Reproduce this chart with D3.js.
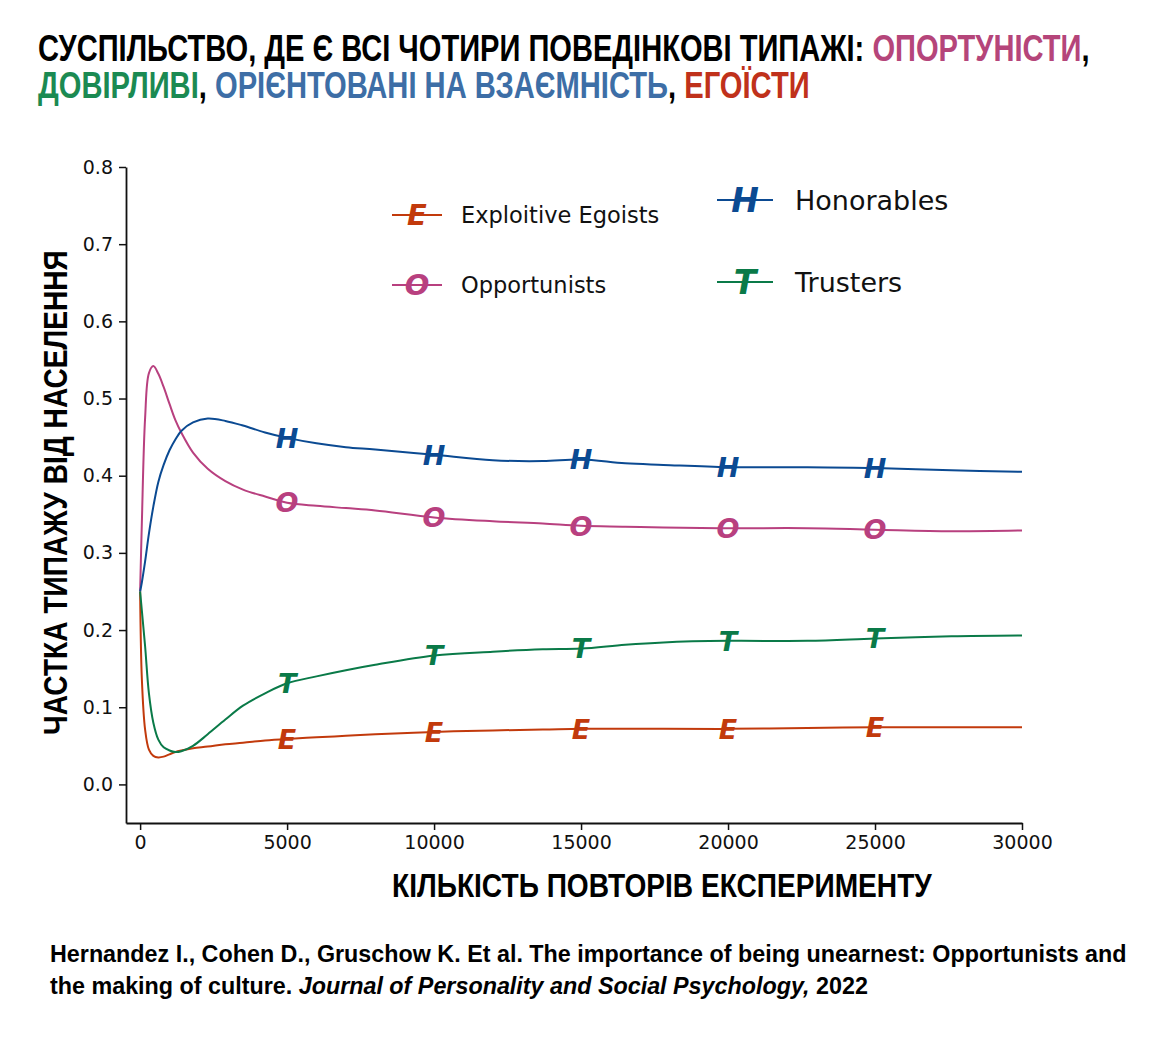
<!DOCTYPE html>
<html>
<head>
<meta charset="utf-8">
<script src="https://cdn.jsdelivr.net/npm/d3@7"></script>
<style>
  body { margin: 0; background: #fff; }
  .tick text { font-family: "DejaVu Sans", sans-serif; font-size: 19px; fill: #111; }
  .narrow { font-family: "Liberation Sans Narrow", "Liberation Sans", Arial, sans-serif; font-weight: bold; }
  .marker { font-family: "DejaVu Sans", sans-serif; font-weight: bold; font-style: italic; }
</style>
</head>
<body>
<div class="canva"></div>
<script>
const canvas = d3.select(".canva");

var iterations = [0, 60, 170, 300, 450, 620, 800, 1000, 1200, 1400, 1800, 2300, 2900, 3500, 4250,
                  5000, 6000, 7000, 8000, 10000, 12000, 13700, 15000, 16500, 17800, 20000, 22700,
                  25000, 27600, 30000];

var honorables = [0.25, 0.262, 0.289, 0.325, 0.360, 0.392, 0.414, 0.433, 0.447, 0.458, 0.469, 0.474,
                  0.471, 0.465, 0.456, 0.449, 0.442, 0.437, 0.434, 0.427, 0.420, 0.419, 0.421, 0.416,
                  0.414, 0.411, 0.411, 0.410, 0.407, 0.405];

var opportunists = [0.25, 0.340, 0.475, 0.533, 0.542, 0.532, 0.515, 0.493, 0.472, 0.456, 0.430, 0.409,
                    0.393, 0.382, 0.373, 0.365, 0.361, 0.358, 0.355, 0.346, 0.341, 0.338, 0.335, 0.334,
                    0.333, 0.332, 0.332, 0.330, 0.328, 0.329];

var trusters = [0.25, 0.225, 0.179, 0.118, 0.080, 0.058, 0.048, 0.044, 0.042, 0.043, 0.050, 0.065,
                0.084, 0.102, 0.118, 0.131, 0.140, 0.148, 0.155, 0.167, 0.172, 0.175, 0.176, 0.181,
                0.184, 0.186, 0.186, 0.189, 0.192, 0.193];

var egoists = [0.25, 0.136, 0.071, 0.045, 0.037, 0.035, 0.036, 0.039, 0.042, 0.044, 0.047, 0.049,
               0.052, 0.054, 0.057, 0.059, 0.061, 0.063, 0.065, 0.068, 0.070, 0.071, 0.072, 0.072,
               0.072, 0.072, 0.073, 0.074, 0.074, 0.074];

var markerIterations = [5000, 10000, 15000, 20000, 25000];
var xTicks = [0, 5000, 10000, 15000, 20000, 25000, 30000];
var yTicks = [0.0, 0.1, 0.2, 0.3, 0.4, 0.5, 0.6, 0.7, 0.8];

var seriesNames = ["Exploitive Egoists", "Opportunists", "Honorables", "Trusters"];
var seriesLetters = ["E", "O", "H", "T"];
var seriesColors = ["#c23a0c", "#b8407f", "#0b4a92", "#0a7a48"];
var seriesValues = [egoists, opportunists, honorables, trusters];

const svg = canvas.append("svg")
                  .attr("width", 1162)
                  .attr("height", 1040)
                  .style("background", "#fff");

var x = d3.scaleLinear()
          .domain([-480, 30000])
          .range([126, 1022]);

var y = d3.scaleLinear()
          .domain([-0.05, 0.8])
          .range([823, 167]);

// condensed bold text, squeezed horizontally to the width it has in the picture
function narrowText(tx, ty, size, width, pieces, rotate) {
    var t = svg.append("text")
               .attr("class", "narrow")
               .attr("font-size", size);
    pieces.forEach(function(p) {
        t.append("tspan")
         .attr("fill", p[1] || "#000")
         .attr("font-style", p[2] || null)
         .text(p[0]);
    });
    var w = t.node().getComputedTextLength();
    t.attr("transform", `translate(${tx},${ty})` + (rotate ? " rotate(-90)" : "") + ` scale(${width / w},1)`);
    return t;
}

// title
narrowText(38, 61, 37, 1052, [
    ["СУСПІЛЬСТВО, ДЕ Є ВСІ ЧОТИРИ ПОВЕДІНКОВІ ТИПАЖІ: "],
    ["ОПОРТУНІСТИ", "#b5457a"],
    [","]
]);
narrowText(38, 98, 37, 772, [
    ["ДОВІРЛИВІ", "#1b8a52"],
    [", "],
    ["ОРІЄНТОВАНІ НА ВЗАЄМНІСТЬ", "#3d6ea6"],
    [", "],
    ["ЕГОЇСТИ", "#c0311b"]
]);

// axes
var xAxis = d3.axisBottom(x)
              .tickValues(xTicks)
              .tickFormat(d3.format("d"))
              .tickSize(7)
              .tickSizeOuter(0)
              .tickPadding(6);
svg.append("g")
   .attr("transform", "translate(0,823)")
   .call(xAxis);

var yAxis = d3.axisLeft(y)
              .tickValues(yTicks)
              .tickFormat(d3.format(".1f"))
              .tickSize(7)
              .tickSizeOuter(0)
              .tickPadding(6);
svg.append("g")
   .attr("transform", "translate(126,0)")
   .call(yAxis);

svg.selectAll(".domain").attr("stroke", "#111").attr("stroke-width", 1.8);
svg.selectAll(".tick line").attr("stroke", "#111").attr("stroke-width", 1.5);

narrowText(392, 897, 34, 540, [["КІЛЬКІСТЬ ПОВТОРІВ ЕКСПЕРИМЕНТУ"]]);
narrowText(67, 735, 34, 485, [["ЧАСТКА ТИПАЖУ ВІД НАСЕЛЕННЯ"]], true);

// lines
var valueLine = d3.line()
                  .x((d, i) => x(iterations[i]))
                  .y(d => y(d))
                  .curve(d3.curveCatmullRom.alpha(0.5));

var plot = svg.append("g");

seriesValues.forEach(function(vals, s) {
    plot.append("path")
        .datum(vals)
        .attr("fill", "none")
        .attr("stroke", seriesColors[s])
        .attr("stroke-width", 2)
        .attr("d", valueLine);
});

seriesValues.forEach(function(vals, s) {
    plot.selectAll(".m" + s)
        .data(markerIterations)
        .enter()
        .append("text")
        .attr("class", "marker m" + s)
        .attr("x", d => x(d))
        .attr("y", d => y(vals[iterations.indexOf(d)]))
        .attr("dy", "0.36em")
        .attr("text-anchor", "middle")
        .attr("font-size", 27)
        .attr("fill", seriesColors[s])
        .text(seriesLetters[s]);
});

// legend
var legendPos = [
    {x: 392, y: 215, len: 50, size: 22.5, mark: 29},
    {x: 392, y: 285, len: 50, size: 22.5, mark: 29},
    {x: 717, y: 200, len: 56, size: 27, mark: 33},
    {x: 717, y: 282, len: 56, size: 27, mark: 33}
];

var legend = svg.selectAll(".legend")
                .data(seriesNames)
                .enter()
                .append("g")
                .attr("class", "legend")
                .attr("transform", (d, i) => `translate(${legendPos[i].x},${legendPos[i].y})`);

legend.append("line")
      .attr("x1", 0)
      .attr("x2", (d, i) => legendPos[i].len)
      .attr("stroke", (d, i) => seriesColors[i])
      .attr("stroke-width", 2);

legend.append("text")
      .attr("class", "marker")
      .attr("x", (d, i) => legendPos[i].len / 2)
      .attr("dy", "0.36em")
      .attr("text-anchor", "middle")
      .attr("font-size", (d, i) => legendPos[i].mark)
      .attr("fill", (d, i) => seriesColors[i])
      .text((d, i) => seriesLetters[i]);

legend.append("text")
      .attr("x", (d, i) => legendPos[i].len + (i < 2 ? 19 : 22))
      .attr("dy", "0.36em")
      .attr("font-family", "DejaVu Sans, sans-serif")
      .attr("font-size", (d, i) => legendPos[i].size)
      .attr("fill", "#111")
      .text(d => d);

// source
narrowText(50, 962, 24, 1077, [
    ["Hernandez I., Cohen D., Gruschow K. Et al. The importance of being unearnest: Opportunists and"]
]);
narrowText(50, 994, 24, 818, [
    ["the making of culture. "],
    ["Journal of Personality and Social Psychology,", null, "italic"],
    [" 2022"]
]);
</script>
</body>
</html>
